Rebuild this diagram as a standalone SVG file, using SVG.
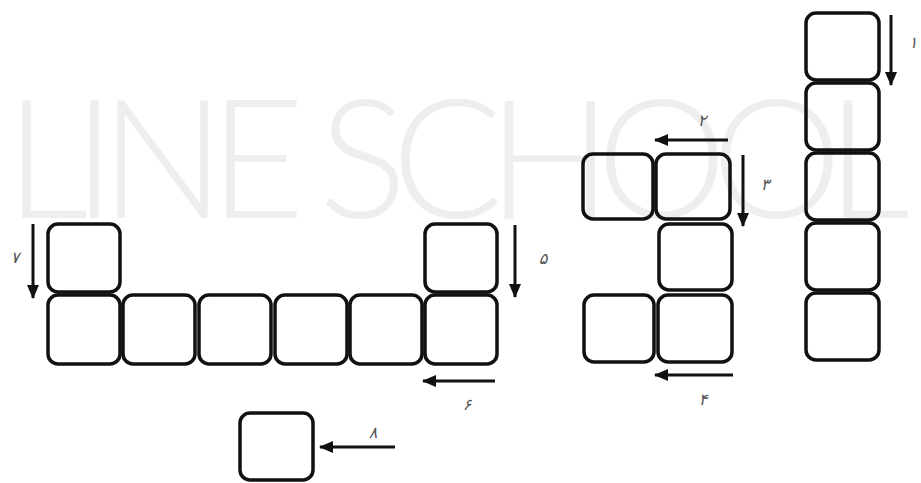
<svg xmlns="http://www.w3.org/2000/svg" width="921" height="483" viewBox="0 0 921 483">
<style>
.box{fill:none;stroke:#111;stroke-width:3.5}
.arr{stroke:#111;stroke-width:3;fill:none;marker-end:url(#ah)}
.lbl{font-family:"DejaVu Sans",sans-serif;font-size:16px;fill:#555;text-anchor:middle;font-style:italic}
.wm{font-family:"Lato","Open Sans",sans-serif;font-weight:300;font-size:165px;fill:#eeeeee}
</style>
<defs>
<marker id="ah" markerUnits="userSpaceOnUse" markerWidth="14" markerHeight="12" refX="13" refY="6" orient="auto">
<path d="M0,0 L14,6 L0,12 z" fill="#111"/>
</marker>
</defs>
<rect width="921" height="483" fill="#fff"/>
<text class="wm" x="5" y="218" textLength="905" lengthAdjust="spacing">LINE SCHOOL</text>
<g id="col1">
<rect id="r1" class="box" x="806" y="13" width="73" height="67" rx="10"/>
<rect id="r2" class="box" x="806" y="83" width="73" height="67" rx="10"/>
<rect id="r3" class="box" x="806" y="153" width="73" height="67" rx="10"/>
<rect id="r4" class="box" x="806" y="223" width="73" height="67" rx="10"/>
<rect id="r5" class="box" x="806" y="293" width="73" height="67" rx="10"/>
</g>
<g id="mid">
<rect id="m1" class="box" x="583" y="154" width="70" height="65" rx="10"/>
<rect id="m2" class="box" x="656" y="154" width="74" height="65" rx="10"/>
<rect id="m3" class="box" x="659" y="224" width="73" height="66" rx="10"/>
<rect id="m4" class="box" x="584" y="295" width="70" height="67" rx="10"/>
<rect id="m5" class="box" x="658" y="295" width="74" height="67" rx="10"/>
</g>
<g id="left">
<rect id="l0" class="box" x="48" y="224" width="72" height="68" rx="10"/>
<rect id="l6" class="box" x="425" y="224" width="72" height="68" rx="10"/>
<rect id="l1" class="box" x="48" y="295" width="72" height="69" rx="10"/>
<rect id="l2" class="box" x="123" y="295" width="72" height="69" rx="10"/>
<rect id="l3" class="box" x="199" y="295" width="72" height="69" rx="10"/>
<rect id="l4" class="box" x="275" y="295" width="72" height="69" rx="10"/>
<rect id="l5" class="box" x="350" y="295" width="72" height="69" rx="10"/>
<rect id="l7" class="box" x="425" y="295" width="72" height="69" rx="10"/>
</g>
<g id="single">
<rect id="s1" class="box" x="240" y="413" width="73" height="67" rx="10"/>
</g>
<g id="connectors">
<line class="arr" x1="891" y1="15" x2="891" y2="85"/>
<line class="arr" x1="728" y1="140" x2="655" y2="140"/>
<line class="arr" x1="743" y1="155" x2="743" y2="226"/>
<line class="arr" x1="733" y1="375" x2="655" y2="375"/>
<line class="arr" x1="515" y1="225" x2="515" y2="297"/>
<line class="arr" x1="495" y1="381" x2="423" y2="381"/>
<line class="arr" x1="33" y1="224" x2="33" y2="298"/>
<line class="arr" x1="395" y1="447" x2="320" y2="447"/>
</g>
<g id="labels">
<text class="lbl" x="913" y="48">۱</text>
<text class="lbl" x="702" y="126">۲</text>
<text class="lbl" x="765" y="190">۳</text>
<text class="lbl" x="703" y="405">۴</text>
<text class="lbl" x="543" y="264">۵</text>
<text class="lbl" x="467" y="410">۶</text>
<text class="lbl" x="15" y="263">۷</text>
<text class="lbl" x="373" y="438">۸</text>
</g>
</svg>
